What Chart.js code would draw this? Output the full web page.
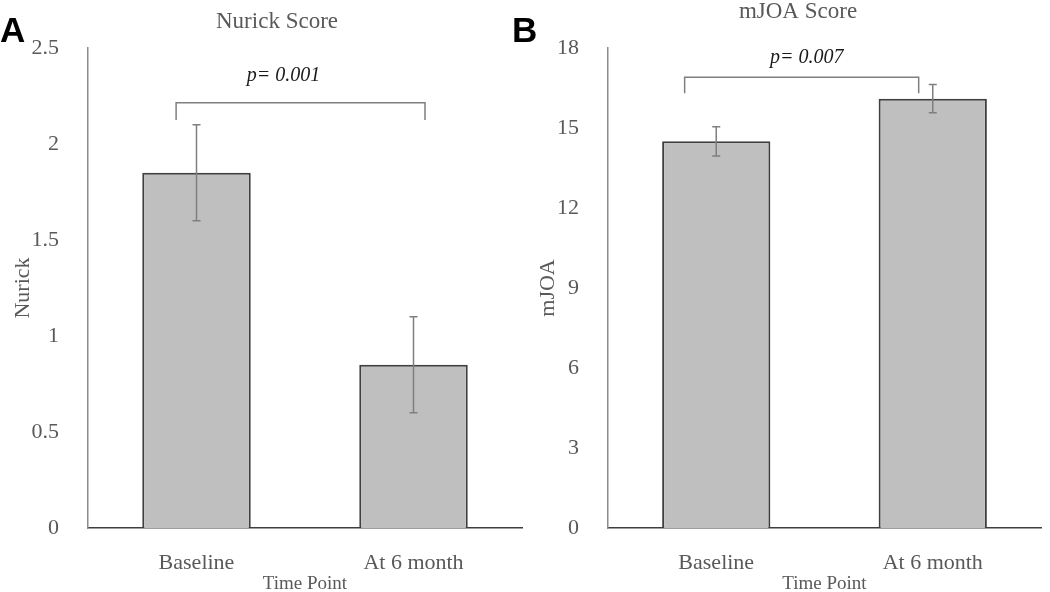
<!DOCTYPE html>
<html>
<head>
<meta charset="utf-8">
<script src="https://cdn.jsdelivr.net/npm/chart.js@4"></script>
<style>
  html, body { margin: 0; padding: 0; background: #fff; }
  .panel { position: absolute; top: 0; }
  #panelA { left: 0; }
  #panelB { left: 500px; }
</style>
</head>
<body>
<div class="panel" id="panelA"><canvas id="nurickChart" width="525" height="592"></canvas></div>
<div class="panel" id="panelB"><canvas id="mjoaChart" width="550" height="592"></canvas></div>
<script>
// data
const timePoints = ['Baseline', 'At 6 month'];
const nurickMeans = [1.85, 0.85];
const nurickErrors = [0.25, 0.25];
const nurickTicks = [0, 0.5, 1, 1.5, 2, 2.5];
const mjoaMeans = [14.5, 16.1];
const mjoaErrors = [0.55, 0.53];
const mjoaTicks = [0, 3, 6, 9, 12, 15, 18];

const serif = "'Liberation Serif', 'Times New Roman', serif";
const grey = '#595959';

// error bars, significance bracket, title and panel letter
const annotate = {
  id: 'annotate',
  afterDatasetsDraw(chart, args, opts) {
    const ctx = chart.ctx;
    const x = chart.scales.x;
    const y = chart.scales.y;
    const meta = chart.getDatasetMeta(0);
    ctx.save();

    ctx.strokeStyle = '#7f7f7f';
    ctx.lineWidth = 1.5;
    meta.data.forEach((bar, i) => {
      const top = y.getPixelForValue(opts.means[i] + opts.errors[i]);
      const bot = y.getPixelForValue(opts.means[i] - opts.errors[i]);
      ctx.beginPath();
      ctx.moveTo(bar.x, top); ctx.lineTo(bar.x, bot);
      ctx.moveTo(bar.x - 4, top); ctx.lineTo(bar.x + 4, top);
      ctx.moveTo(bar.x - 4, bot); ctx.lineTo(bar.x + 4, bot);
      ctx.stroke();
    });

    const b = opts.bracket;
    const bl = x.getPixelForValue(b.from);
    const br = x.getPixelForValue(b.to);
    const by = y.getPixelForValue(b.level);
    const bt = y.getPixelForValue(b.foot);
    ctx.beginPath();
    ctx.moveTo(bl, bt); ctx.lineTo(bl, by); ctx.lineTo(br, by); ctx.lineTo(br, bt);
    ctx.stroke();

    ctx.fillStyle = '#1a1a1a';
    ctx.font = 'italic 20px ' + serif;
    ctx.textAlign = 'center';
    ctx.textBaseline = 'middle';
    ctx.fillText(b.label, (bl + br) / 2 + b.labelShift, y.getPixelForValue(b.labelLevel));

    ctx.fillStyle = grey;
    ctx.font = '23px ' + serif;
    ctx.fillText(opts.title, opts.titleX, opts.titleY);

    ctx.fillStyle = '#000';
    ctx.font = "bold 35px 'Liberation Sans', Arial, sans-serif";
    ctx.textAlign = 'left';
    ctx.textBaseline = 'alphabetic';
    ctx.fillText(opts.letter, opts.letterX, 42);
    ctx.restore();
  }
};

function makeChart(id, cfg) {
  return new Chart(document.getElementById(id), {
    type: 'bar',
    data: {
      labels: timePoints,
      datasets: [{
        data: cfg.means,
        backgroundColor: '#bfbfbf',
        borderColor: '#3f3f3f',
        borderWidth: 2,
        barPercentage: 1,
        categoryPercentage: 0.5
      }]
    },
    options: {
      responsive: false,
      animation: false,
      devicePixelRatio: 1,
      layout: { padding: { top: 48, left: 0, right: cfg.padRight, bottom: 0 } },
      plugins: {
        legend: { display: false },
        tooltip: { enabled: false },
        annotate: cfg
      },
      scales: {
        x: {
          grid: { display: false },
          border: { display: true, color: '#3f3f3f', width: 1.5 },
          ticks: { color: grey, font: { family: serif, size: 22 }, padding: 14 },
          title: {
            display: true, text: 'Time Point', color: grey,
            font: { family: serif, size: 19, lineHeight: 1 }, padding: { top: 0, bottom: -2 }
          },
          afterFit: s => { s.height = 64; }
        },
        y: {
          min: cfg.ticks[0],
          max: cfg.ticks[cfg.ticks.length - 1],
          grid: { display: false },
          border: { display: true, color: '#8c8c8c', width: 1.5 },
          afterBuildTicks: s => { s.ticks = cfg.ticks.map(v => ({ value: v })); },
          ticks: {
            color: grey, font: { family: serif, size: 22 }, padding: 21,
            callback: v => String(v)
          },
          title: {
            display: true, text: cfg.axisTitle, color: grey,
            font: { family: serif, size: 22, lineHeight: 1 },
            padding: { top: cfg.axisTitlePad, bottom: 0 }
          },
          afterFit: s => { s.width = cfg.axisWidth; }
        }
      }
    },
    plugins: [annotate]
  });
}

makeChart('nurickChart', {
  means: nurickMeans, errors: nurickErrors, ticks: nurickTicks,
  axisTitle: 'Nurick', axisTitlePad: 12, axisWidth: 88, padRight: 3,
  title: 'Nurick Score', titleX: 277, titleY: 22,
  letter: 'A', letterX: 0,
  bracket: { from: -0.094, to: 1.053, level: 2.215, foot: 2.125,
             label: 'p= 0.001', labelLevel: 2.354, labelShift: -17 }
});

makeChart('mjoaChart', {
  means: mjoaMeans, errors: mjoaErrors, ticks: mjoaTicks,
  axisTitle: 'mJOA', axisTitlePad: 37, axisWidth: 108, padRight: 9,
  title: 'mJOA Score', titleX: 298, titleY: 12,
  letter: 'B', letterX: 12,
  bracket: { from: -0.146, to: 0.935, level: 16.9, foot: 16.3,
             label: 'p= 0.007', labelLevel: 17.62, labelShift: 5 }
});
</script>
</body>
</html>
